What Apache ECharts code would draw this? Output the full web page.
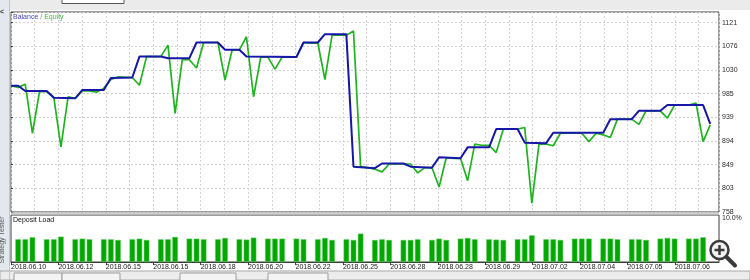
<!DOCTYPE html>
<html><head><meta charset="utf-8">
<script src="https://cdn.jsdelivr.net/npm/echarts@6/dist/echarts.min.js"></script>
<style>html,body{margin:0;padding:0;background:#fff}#c{width:750px;height:280px}</style>
</head><body><div id="c"></div>
<script>
// ---------- data ----------
const dateLabels = ['2018.06.10','2018.06.12','2018.06.15','2018.06.15','2018.06.18','2018.06.20','2018.06.22','2018.06.25','2018.06.28','2018.06.28','2018.06.29','2018.07.02','2018.07.04','2018.07.05','2018.07.06'];
const yTickLabels = ['758','803','849','894','939','985','1030','1076','1121'];
const loadTickLabels = ['10.0%'];
// [trade number, value]
const balance = [[0,1000],[1,1000],[2,990],[5,990],[6,977],[9,976],[10,992],[13,992],[14,1015],[17,1016],[18,1056],[21,1056],[22,1053],[25,1053],[26,1083],[29,1083],[30,1069],[32,1069],[33,1056],[40,1055],[41,1083],[43,1083],[44,1099],[47,1099],[48,845],[51,842],[52,851],[55,851],[56,845],[59,843],[60,863],[63,861],[64,882],[67,882],[68,917],[71,917],[72,891],[75,890],[76,910],[83,910],[84,936],[87,936],[88,952],[91,952],[92,963],[97,963],[98,927]];
const equity = [[0,1000],[1,997],[2,1003],[3,909],[4,989],[5,989],[6,978],[7,883],[8,979],[9,976],[10,990],[11,990],[12,988],[13,995],[14,1012],[15,1017],[16,1016],[17,1016],[18,1001],[19,1056],[20,1056],[21,1056],[22,1078],[23,947],[24,1050],[25,1050],[26,1034],[27,1083],[28,1083],[29,1083],[30,1011],[31,1069],[32,1069],[33,1094],[34,979],[35,1055],[36,1055],[37,1032],[38,1055],[39,1055],[40,1055],[41,1083],[42,1082],[43,1082],[44,1012],[45,1097],[46,1097],[47,1097],[48,1105],[49,845],[50,843],[51,840],[52,835],[53,850],[54,850],[55,850],[56,850],[57,833],[58,843],[59,843],[60,806],[61,862],[62,861],[63,861],[64,818],[65,888],[66,886],[67,886],[68,872],[69,917],[70,917],[71,917],[72,920],[73,775],[74,888],[75,888],[76,885],[77,909],[78,909],[79,909],[80,909],[81,893],[82,909],[83,906],[84,901],[85,936],[86,936],[87,936],[88,926],[89,952],[90,952],[91,952],[92,938],[93,963],[94,963],[95,963],[96,967],[97,893],[98,925]];
// deposit load (%) indexed by trade number, null = no bar
const depositLoad = [null,
 4.83,4.83,5.26,null, 4.83,4.83,5.40,null, 4.83,4.97,4.83,null, 4.83,4.83,4.69,null,
 4.83,4.97,4.69,null, 4.83,4.83,5.33,null, 4.97,4.97,4.83,null, 4.83,5.11,null,
 4.83,4.76,5.18,null, 4.97,4.97,4.97,null, 4.97,4.83,null, 4.83,5.11,4.69,null,
 4.83,4.69,6.04,null, 4.69,4.83,4.69,null, 4.69,4.69,4.83,null, 4.69,4.97,4.69,null,
 4.97,5.11,4.83,null, 4.83,4.76,4.69,null, 4.83,4.83,5.68,null, 4.83,4.83,4.69,null,
 4.97,4.97,4.97,null, 4.97,4.97,4.83,null, 4.83,4.83,4.69,null, 4.97,5.11,4.97,null,
 4.97,4.97,5.26];

// ---------- layout ----------
const FONT = 'Liberation Sans, Arial, sans-serif';
const PLOT_L = 11, PLOT_R = 719, PX_PER_TRADE = 7.135, GRID_PX = 23.71;
const XMAX = +((PLOT_R - PLOT_L) / PX_PER_TRADE).toFixed(3);
const XI = +(GRID_PX / PX_PER_TRADE).toFixed(4);
const YMIN = +yTickLabels[0];
const YSTEP = (+yTickLabels[yTickLabels.length - 1] - YMIN) / (yTickLabels.length - 1);
const YMAX = 1141.5;
const LOADMAX = parseFloat(loadTickLabels[0]);

const labelVals = dateLabels.map((_, i) => +(i * 2 * XI).toFixed(4));
const gridLine = { show: true, lineStyle: { color: '#d2d2d2', width: 1, type: [2, 2] } };

const bars = depositLoad.map((v, i) => v == null ? null : [i, v]).filter(d => d);

const chart = echarts.init(document.getElementById('c'), null, { renderer: 'canvas' });
chart.setOption({
  backgroundColor: '#ffffff',
  animation: false,
  grid: [
    { left: PLOT_L, top: 12, width: PLOT_R - PLOT_L, height: 200, show: true, backgroundColor: '#fff', borderColor: '#3c3c3c', borderWidth: 1 },
    { left: PLOT_L, top: 215, width: PLOT_R - PLOT_L, height: 47, show: true, backgroundColor: '#fff', borderColor: '#3c3c3c', borderWidth: 1 }
  ],
  xAxis: [
    { type: 'value', gridIndex: 0, min: 0, max: XMAX, interval: XI,
      axisLine: { show: false }, axisTick: { show: false }, axisLabel: { show: false }, splitLine: gridLine },
    { type: 'value', gridIndex: 1, min: 0, max: XMAX, interval: XI, position: 'bottom',
      axisLine: { show: true, lineStyle: { color: '#3c3c3c' } },
      axisTick: { show: true, length: 3, customValues: labelVals, lineStyle: { color: '#3c3c3c' } },
      splitLine: { show: false },
      axisLabel: { show: true, customValues: labelVals, align: 'left', margin: 2,
        fontFamily: FONT, fontSize: 7, color: '#1a1a1a',
        formatter: v => { const i = v / (2 * XI); const r = Math.round(i); return Math.abs(i - r) < 1e-3 && dateLabels[r] ? dateLabels[r] : ''; } } }
  ],
  yAxis: [
    { type: 'value', gridIndex: 0, position: 'right', min: YMIN, max: YMAX, interval: YSTEP,
      axisLine: { show: false }, axisTick: { show: true, length: 2, lineStyle: { color: '#3c3c3c' } },
      splitLine: gridLine,
      axisLabel: { show: true, margin: 3, fontFamily: FONT, fontSize: 7, color: '#2a2a2a', showMinLabel: true, showMaxLabel: true,
        formatter: v => { const i = (v - YMIN) / YSTEP; const r = Math.round(i); return Math.abs(i - r) < 1e-3 && yTickLabels[r] ? yTickLabels[r] : ''; } } },
    { type: 'value', gridIndex: 1, position: 'right', min: 0, max: LOADMAX, interval: LOADMAX,
      axisLine: { show: false }, axisTick: { show: false }, splitLine: { show: false },
      axisLabel: { show: true, margin: 3, fontFamily: FONT, fontSize: 7, color: '#2a2a2a', verticalAlign: 'top', showMaxLabel: true, showMinLabel: false,
        formatter: v => Math.abs(v - LOADMAX) < 1e-6 ? loadTickLabels[0] : '' } }
  ],
  series: [
    { name: 'Equity', type: 'line', xAxisIndex: 0, yAxisIndex: 0, data: equity, symbol: 'none',
      lineStyle: { color: '#1fb41f', width: 1.7 }, z: 3 },
    { name: 'Balance', type: 'line', xAxisIndex: 0, yAxisIndex: 0, data: balance, symbol: 'none',
      lineStyle: { color: '#1616a8', width: 2 }, z: 4 },
    { name: 'Deposit Load', type: 'bar', xAxisIndex: 1, yAxisIndex: 1, data: bars, barWidth: 5.5,
      itemStyle: { color: '#00a800', borderColor: '#5ccc5c', borderWidth: 0.5 } }
  ],
  graphic: [
    // window chrome
    { type: 'rect', z: 50, shape: { x: 0, y: 0, width: 750, height: 10 }, style: { fill: '#ebebeb' } },
    { type: 'rect', z: 51, shape: { x: 62, y: -2, width: 62, height: 5.5 }, style: { fill: '#fff', stroke: '#555', lineWidth: 1 } },
    { type: 'rect', z: 50, shape: { x: 0, y: 0, width: 10, height: 280 }, style: { fill: '#e3e8ee' } },
    { type: 'line', z: 51, shape: { x1: 9.5, y1: 0, x2: 9.5, y2: 280 }, style: { stroke: '#c0c6cc', lineWidth: 1 } },
    { type: 'text', z: 52, x: 2, y: 12, style: { text: '<', font: 'bold 7px ' + FONT, fill: '#333', align: 'center', verticalAlign: 'middle' } },
    { type: 'text', z: 52, x: 2, y: 240, rotation: Math.PI / 2, style: { text: 'Strategy Tester', font: '7px ' + FONT, fill: '#555', align: 'center', verticalAlign: 'middle' } },
    { type: 'rect', z: 50, shape: { x: PLOT_L, y: 212.5, width: PLOT_R - PLOT_L, height: 2 }, style: { fill: '#d0d0d0' } },
    { type: 'rect', z: 50, shape: { x: 0, y: 271, width: 750, height: 9 }, style: { fill: '#ececec', stroke: '#a8a8a8', lineWidth: 1 } },
    { type: 'rect', z: 51, shape: { x: 14, y: 273, width: 48, height: 10 }, style: { fill: '#f4f4f4', stroke: '#9a9a9a', lineWidth: 1 } },
    { type: 'rect', z: 51, shape: { x: 62, y: 273, width: 58, height: 10 }, style: { fill: '#f4f4f4', stroke: '#9a9a9a', lineWidth: 1 } },
    { type: 'rect', z: 51, shape: { x: 180, y: 273, width: 56, height: 10 }, style: { fill: '#f4f4f4', stroke: '#9a9a9a', lineWidth: 1 } },
    { type: 'rect', z: 51, shape: { x: 268, y: 273, width: 60, height: 10 }, style: { fill: '#f4f4f4', stroke: '#9a9a9a', lineWidth: 1 } },
    // panel titles
    { type: 'text', z: 60, x: 13, y: 17.5, style: { text: '{b|Balance}{s| / }{e|Equity}', font: '7px ' + FONT, verticalAlign: 'middle',
        rich: { b: { fill: '#4848c8', font: '7px ' + FONT }, s: { fill: '#777', font: '7px ' + FONT }, e: { fill: '#3cb83c', font: '7px ' + FONT } } } },
    { type: 'text', z: 60, x: 13, y: 220, style: { text: 'Deposit Load', font: '7px ' + FONT, fill: '#111', verticalAlign: 'middle' } },
    // zoom icon overlay
    { type: 'circle', z: 70, shape: { cx: 719.5, cy: 250, r: 9 }, style: { fill: '#f2f2f2', stroke: '#3a3a3a', lineWidth: 2.5 } },
    { type: 'line', z: 71, shape: { x1: 714.5, y1: 250, x2: 724.5, y2: 250 }, style: { stroke: '#3a3a3a', lineWidth: 2.5 } },
    { type: 'line', z: 71, shape: { x1: 719.5, y1: 245, x2: 719.5, y2: 255 }, style: { stroke: '#3a3a3a', lineWidth: 2.5 } },
    { type: 'line', z: 71, shape: { x1: 726.5, y1: 257, x2: 735, y2: 265.5 }, style: { stroke: '#3a3a3a', lineWidth: 4, lineCap: 'round' } }
  ]
});
</script>
</body></html>
